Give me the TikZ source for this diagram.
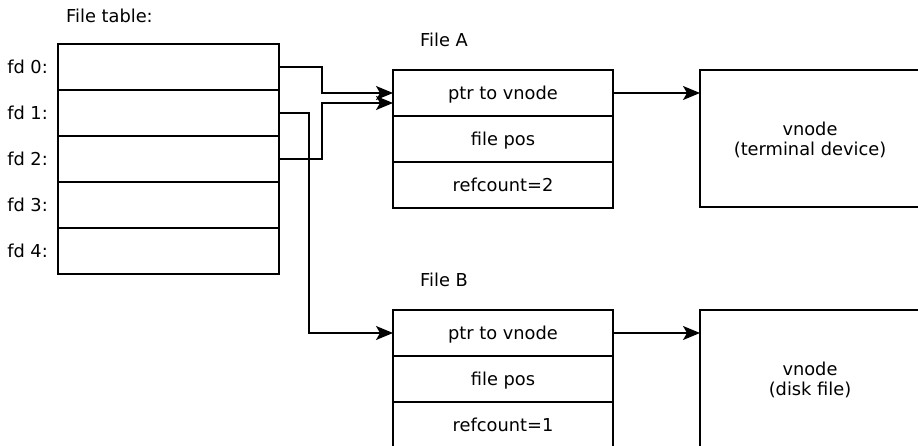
\documentclass[tikz,border=0pt]{standalone}
\usepackage{fontspec}
\setmainfont{DejaVu Sans}
\usetikzlibrary{arrows.meta}
\begin{document}
\begin{tikzpicture}[x=1pt,y=-1pt,
  font=\fontsize{17.8}{20}\selectfont,
  txt/.style={text height=13.5pt,text depth=0pt},
  box/.style={draw,line width=1.3pt,inner sep=0pt,outer sep=0pt,anchor=north west},
  cell/.style={box,txt,minimum width=221pt,minimum height=46pt},
  fcell/.style={box,txt,minimum width=220pt,minimum height=46pt},
  vbox/.style={box,minimum width=220pt,minimum height=137pt,align=center,text depth=-3.5pt},
  lbl/.style={txt,inner sep=0pt},
  conn/.style={line width=1.3pt,-{Stealth[length=17pt,width=14pt,inset=4pt]}}]
\useasboundingbox (0,0) rectangle (918,446);
\clip (0,0) rectangle (918,446);
\fill[white] (0,0) rectangle (918,446);

% file table
\node[lbl,anchor=west] (fttitle) at (66,16) {File table:};
\node[cell] (ft0) at (58,44) {};
\node[cell] (ft1) at (58,90) {};
\node[cell] (ft2) at (58,136) {};
\node[cell] (ft3) at (58,182) {};
\node[cell] (ft4) at (58,228) {};
\foreach \i in {0,...,4}{
  \node[lbl,anchor=east] (fd\i) at ([xshift=-10pt,yshift=0.5pt]ft\i.west) {fd \i:};
}

% File A
\node[lbl] (fatitle) at (444,39.5) {File A};
\node[fcell] (fa1) at (393,70) {ptr to vnode};
\node[fcell] (fa2) at (393,116) {file pos};
\node[fcell] (fa3) at (393,162) {refcount=2};
\node[vbox] (vna) at (700,70) {vnode\\(terminal device)};

% File B
\node[lbl] (fbtitle) at (444,279.5) {File B};
\node[fcell] (fb1) at (393,310) {ptr to vnode};
\node[fcell] (fb2) at (393,356) {file pos};
\node[fcell] (fb3) at (393,402) {refcount=1};
\node[vbox] (vnb) at (700,310) {vnode\\(disk file)};

% connectors
\draw[conn] (ft0.east) -- ++(43,0) |- (fa1.west);
\draw[conn] (ft2.east) -- ++(43,0) |- ([yshift=-10pt]fa1.west);
\draw[conn] (ft1.east) -- ++(30,0) |- (fb1.west);
\draw[conn] (fa1.east) -- (fa1.east -| vna.west);
\draw[conn] (fb1.east) -- (fb1.east -| vnb.west);
\end{tikzpicture}
\end{document}
